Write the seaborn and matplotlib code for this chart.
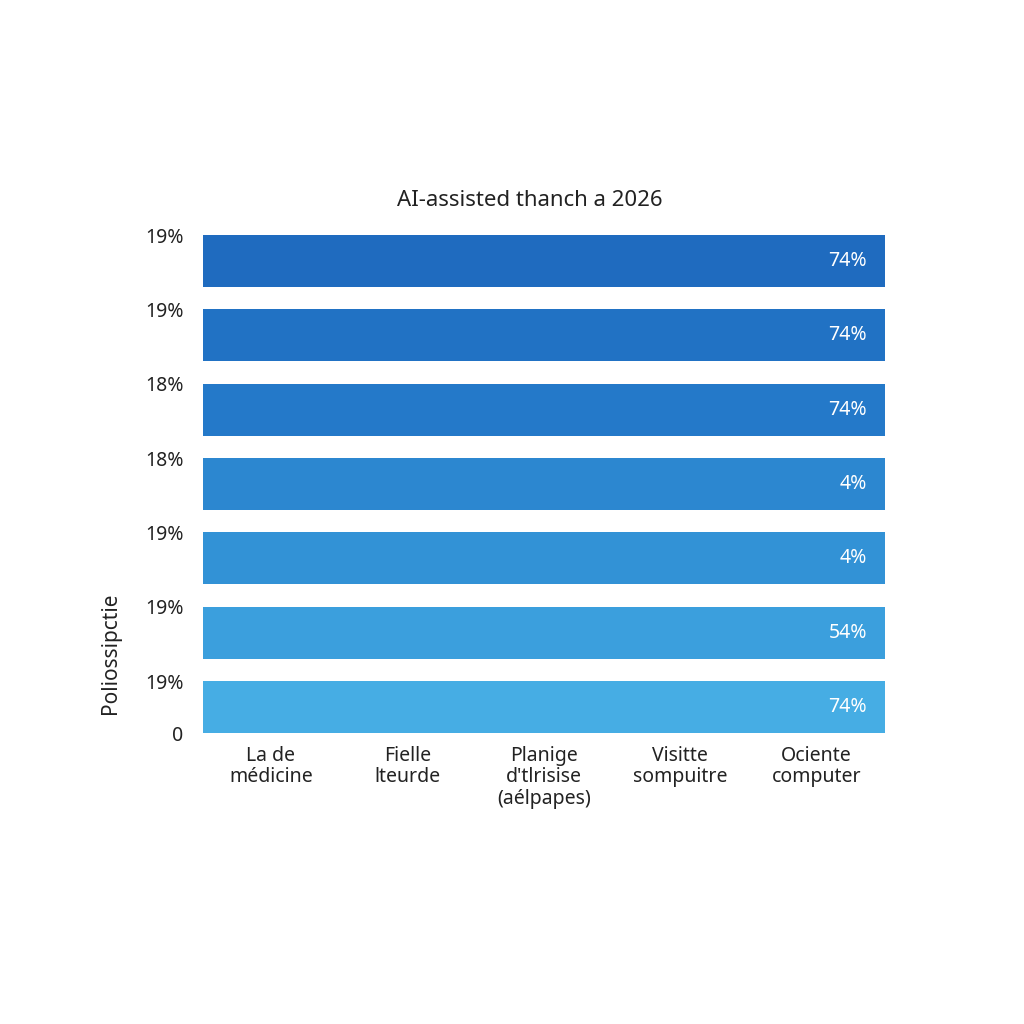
import matplotlib.pyplot as plt
import pandas as pd
import seaborn as sns

TITLE = "AI-assisted thanch a 2026"
Y_LABEL = "Poliossipctie"

# one row per bar, top to bottom
row_ticks = ["19%", "19%", "18%", "18%", "19%", "19%", "19%"]
bar_values = [100, 100, 100, 100, 100, 100, 100]
bar_labels = ["74%", "74%", "74%", "4%", "4%", "54%", "74%"]
bar_colors = ["#1f6bbf", "#2172c4", "#2479c9", "#2c87d0", "#3292d6", "#3b9fdd", "#46ade4"]

# categories along the bottom
categories = ["La de\nmédicine", "Fielle\nlteurde", "Planige\nd'tlrisise\n(aélpapes)",
              "Visitte\nsompuitre", "Ociente\ncomputer"]

sns.set_theme(style="white")
plt.rcParams["font.family"] = ["Noto Sans", "DejaVu Sans"]

df = pd.DataFrame({"row": [str(i) for i in range(len(bar_values))],
                   "value": bar_values, "label": bar_labels})

fig = plt.figure(figsize=(10.24, 10.24), dpi=100)
ax = fig.add_axes([0.198, 0.284, 0.666, 0.4865])

sns.barplot(data=df, x="value", y="row", hue="row", palette=bar_colors,
            legend=False, orient="h", width=0.7, saturation=1, linewidth=0, ax=ax)

n = len(bar_values)
ax.set_xlim(0, 100)
ax.set_ylim(n - 1 + 0.35, -0.35)

for i, lab in enumerate(bar_labels):
    ax.text(97.4, i, lab, color="white", fontsize=14, ha="right", va="center")

# y ticks at the upper edge of each bar, plus 0 at the baseline
ax.set_yticks([i - 0.35 for i in range(n)] + [n - 1 + 0.35])
ax.set_yticklabels(row_ticks + ["0"], fontsize=14, color="#222222")
ax.tick_params(axis="y", length=0, pad=14)

# category boundaries as small ticks, labels centred between them
step = 100 / len(categories)
ax.set_xticks([step * k for k in range(len(categories) + 1)])
ax.set_xticklabels([])
ax.set_xticks([step * (k + 0.5) for k in range(len(categories))], minor=True)
ax.set_xticklabels(categories, minor=True, fontsize=14, color="#222222", linespacing=1.1)
ax.tick_params(axis="x", which="major", length=6, width=0.8, color="#dddddd", direction="out")
ax.tick_params(axis="x", which="minor", length=0, pad=9)

for s in ax.spines.values():
    s.set_visible(False)

ax.set_xlabel("")
ax.set_ylabel(Y_LABEL, fontsize=15, color="#222222")
ax.yaxis.set_label_coords(-0.12, 0.16)

fig.text(0.517, 0.804, TITLE, fontsize=16, color="#222222", ha="center", va="center")

fig.savefig("out.png", dpi=100, facecolor="white")
